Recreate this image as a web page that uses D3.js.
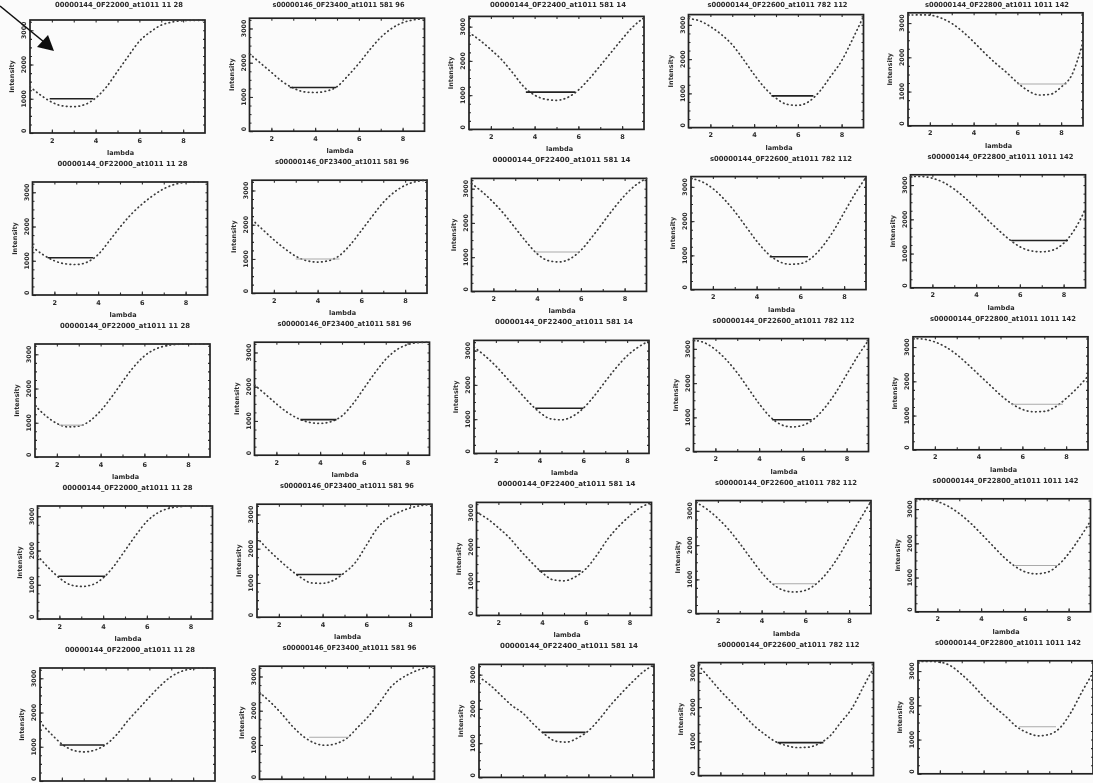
<!DOCTYPE html>
<html>
<head>
<meta charset="utf-8">
<script src="https://cdn.jsdelivr.net/npm/d3@7"></script>
<style>
  html, body { margin: 0; padding: 0; background: #fbfbfb; }
  svg { display: block; }
  text { font-family: "DejaVu Sans", sans-serif; fill: #2a2a2a; }
</style>
</head>
<body>
<svg id="chart" width="1093" height="783"></svg>
<script>
// ---------------- DATA ----------------
const lambdaGrid = [1, 1.5, 2, 2.5, 3, 3.5, 4, 4.5, 5, 5.5, 6, 6.5, 7, 7.5, 8, 8.5, 9];

const columnTitles = [
  "00000144_0F22000_at1011 11 28",
  "s00000146_0F23400_at1011 581 96",
  "00000144_0F22400_at1011 581 14",
  "s00000144_0F22600_at1011 782 112",
  "s00000144_0F22800_at1011 1011 142"
];
const xTickLabels = [2, 4, 6, 8];
const yTickLabels = [0, 1000, 2000, 3000];
const xAxisTitle = "lambda";
const yAxisTitle = "Intensity";

// intensity read at each lambdaGrid value, one array per panel (columns 1..5)
const row1Intensity = [
  [1350, 1100, 900, 790, 770, 830, 1020, 1350, 1800, 2250, 2680, 2950, 3150, 3240, 3280, 3290, 3290],
  [2260, 1990, 1720, 1450, 1260, 1150, 1130, 1170, 1300, 1620, 1980, 2380, 2740, 3000, 3170, 3250, 3290],
  [2830, 2600, 2330, 2030, 1650, 1250, 1000, 880, 850, 930, 1150, 1480, 1860, 2250, 2640, 3000, 3260],
  [3180, 3120, 2950, 2720, 2420, 2000, 1550, 1150, 860, 680, 650, 760, 1060, 1500, 1950, 2580, 3250],
  [3230, 3240, 3230, 3150, 2990, 2750, 2450, 2130, 1830, 1560, 1260, 1020, 900, 920, 1130, 1500, 2450]
];
const row2Intensity = [
  [1400, 1170, 1000, 910, 890, 960, 1180, 1570, 1980, 2350, 2650, 2900, 3100, 3230, 3290, 3300, 3300],
  [2150, 1850, 1560, 1300, 1080, 950, 910, 950, 1100, 1420, 1830, 2250, 2650, 2950, 3150, 3260, 3300],
  [3150, 2900, 2600, 2250, 1850, 1450, 1100, 900, 860, 950, 1200, 1580, 2000, 2420, 2800, 3100, 3300],
  [3250, 3150, 2950, 2650, 2280, 1850, 1420, 1060, 830, 740, 760, 920, 1250, 1700, 2250, 2800, 3280],
  [3250, 3250, 3200, 3080, 2880, 2620, 2320, 2000, 1700, 1420, 1200, 1080, 1050, 1100, 1300, 1700, 2300]
];
const row3Intensity = [
  [1500, 1200, 980, 880, 900, 1050, 1350, 1750, 2200, 2620, 2950, 3150, 3250, 3290, 3300, 3300, 3300],
  [2050, 1780, 1500, 1250, 1070, 960, 930, 980, 1150, 1500, 1950, 2400, 2800, 3080, 3230, 3290, 3300],
  [3100, 2850, 2550, 2200, 1850, 1500, 1200, 1010, 980, 1080, 1320, 1680, 2100, 2500, 2850, 3100, 3280],
  [3250, 3180, 2980, 2680, 2300, 1850, 1400, 1020, 790, 720, 770, 950, 1280, 1720, 2250, 2780, 3250],
  [3250, 3230, 3150, 3000, 2780, 2500, 2200, 1900, 1600, 1350, 1180, 1110, 1120, 1250, 1500, 1800, 2150]
];
const row4Intensity = [
  [1850, 1500, 1200, 1000, 950, 1000, 1200, 1550, 2000, 2450, 2850, 3100, 3230, 3280, 3300, 3300, 3300],
  [2320, 1980, 1680, 1400, 1160, 1000, 990, 1080, 1300, 1600, 2100, 2600, 2900, 3070, 3190, 3260, 3290],
  [3010, 2820, 2560, 2270, 1900, 1560, 1250, 1040, 1010, 1120, 1360, 1760, 2230, 2600, 2900, 3150, 3290],
  [3250, 3050, 2780, 2450, 2050, 1620, 1200, 870, 680, 630, 680, 870, 1200, 1650, 2200, 2750, 3280],
  [3280, 3280, 3220, 3080, 2870, 2600, 2280, 1950, 1620, 1350, 1170, 1110, 1150, 1350, 1700, 2150, 2650]
];
const row5Intensity = [
  [1720, 1380, 1080, 900, 850, 900, 1060, 1350, 1750, 2100, 2450, 2780, 3050, 3210, 3280, 3300, 3300],
  [2530, 2250, 1920, 1550, 1250, 1060, 990, 1040, 1200, 1520, 1850, 2250, 2690, 2950, 3120, 3240, 3290],
  [2930, 2700, 2400, 2100, 1880, 1550, 1260, 1060, 1030, 1150, 1360, 1700, 2100, 2450, 2780, 3080, 3290],
  [3220, 2850, 2480, 2150, 1820, 1480, 1220, 1000, 880, 820, 830, 930, 1150, 1550, 1950, 2550, 3150],
  [3280, 3280, 3260, 3150, 2900, 2600, 2250, 1950, 1680, 1380, 1200, 1110, 1150, 1350, 1800, 2400, 2950]
];

// horizontal chord per panel: [lambda start, lambda end, intensity]
const row1Chords = [[1.9, 3.9, 1000], [2.84, 4.96, 1278], [3.6, 5.85, 1090], [4.79, 6.71, 926], [6.0, 8.26, 1219]];
const row2Chords = [[1.69, 3.77, 1090], [3.0, 5.0, 1000], [3.9, 5.95, 1150], [4.6, 6.35, 960], [5.6, 8.2, 1380]];
const row3Chords = [[2.1, 3.2, 930], [3.1, 4.75, 1040], [3.8, 6.0, 1320], [4.6, 6.4, 930], [5.5, 7.85, 1330]];
const row4Chords = [[1.95, 4.1, 1250], [2.79, 4.86, 1245], [3.86, 5.77, 1296], [4.5, 6.45, 870], [5.5, 7.5, 1350]];
const row5Chords = [[1.9, 3.95, 1051], [3.27, 5.09, 1227], [3.9, 5.87, 1314], [4.61, 6.71, 964], [5.62, 7.31, 1373]];

const allIntensity = [row1Intensity, row2Intensity, row3Intensity, row4Intensity, row5Intensity];
const allChords = [row1Chords, row2Chords, row3Chords, row4Chords, row5Chords];

// ---------------- RENDER ----------------
const CANVAS_H = 783;
const svg = d3.select("#chart");
const defs = svg.append("defs");
defs.append("filter").attr("id", "scan")
  .append("feGaussianBlur").attr("stdDeviation", 0.35);

const root = svg.append("g").attr("filter", "url(#scan)");

const PW = 175, PH = 113;
const panelLeft = (r, c) => 30 + c * 219.5 + r * 2.5;
const panelTop  = (r, c) => 20 + r * 162 - c * 1.8;

// faint (light grey) chords, a matter of ink in the scan
const faint = new Set(["0-4", "1-1", "1-2", "2-0", "2-4", "3-3", "3-4", "4-1", "4-4"]);

const x = d3.scaleLinear().domain([1, 9]).range([0, PW]);
const y = d3.scaleLinear().domain([0, 3300]).range([PH, 0]);

const line = d3.line()
  .x((d, i) => x(lambdaGrid[i]))
  .y(d => y(d))
  .curve(d3.curveMonotoneX);

// titles of the row above, at the top edge of the sheet
columnTitles.forEach((t, c) => {
  root.append("text")
    .attr("x", panelLeft(-1, c) + PW / 2 + 4)
    .attr("y", 7)
    .attr("text-anchor", "middle")
    .attr("font-size", 7)
    .attr("font-weight", "bold")
    .attr("textLength", 128 + c * 4)
    .attr("lengthAdjust", "spacingAndGlyphs")
    .text(t);
});

for (let r = 0; r < 5; r++) {
  for (let c = 0; c < 5; c++) {
    const top = panelTop(r, c);
    const g = root.append("g")
      .attr("transform", `translate(${panelLeft(r, c)},${top})`);
    const fits = dy => top + dy <= CANVAS_H - 1;

    // axes with inward ticks
    const xMinor = d3.axisBottom(x).tickValues(d3.range(2, 9, 1)).tickSize(-2.5).tickFormat("");
    const xMajor = d3.axisBottom(x).tickValues(xTickLabels).tickSize(-3.5).tickPadding(5)
      .tickFormat(fits(PH + 12) ? d3.format("d") : "");
    const xTop = d3.axisTop(x).tickValues(d3.range(2, 9, 1)).tickSize(-2.5).tickFormat("");
    const yMinor = d3.axisLeft(y).tickValues(d3.range(250, 3300, 250)).tickSize(-2).tickFormat("");
    const yRight = d3.axisRight(y).tickValues(d3.range(250, 3300, 250)).tickSize(-2).tickFormat("");
    const yMajor = d3.axisLeft(y).tickValues(yTickLabels).tickSize(-3.5).tickFormat("");

    g.append("g").attr("transform", `translate(0,${PH})`).call(xMinor);
    const axM = g.append("g").attr("transform", `translate(0,${PH})`).call(xMajor);
    axM.selectAll("text").attr("font-size", 6.5).attr("font-weight", "bold")
      .attr("font-family", "DejaVu Sans").attr("fill", "#2a2a2a");
    if (!fits(PH + 12)) axM.selectAll("text").remove();
    g.append("g").call(xTop);
    g.append("g").call(yMinor);
    g.append("g").call(yMajor);
    g.append("g").attr("transform", `translate(${PW},0)`).call(yRight);
    g.selectAll(".domain").remove();
    g.selectAll(".tick line").attr("stroke", "#333").attr("stroke-width", 1.1);

    // y tick labels, rotated
    g.selectAll(".ylab").data(yTickLabels).join("text")
      .attr("class", "ylab")
      .attr("transform", d => `translate(-4,${y(d)}) rotate(-90)`)
      .attr("text-anchor", d => d === 0 ? "start" : "middle")
      .attr("font-size", 6.3)
      .attr("font-weight", "bold")
      .attr("fill", "#333")
      .text(d => d);

    // frame
    g.append("rect").attr("x", 0).attr("y", 0).attr("width", PW).attr("height", PH)
      .attr("fill", "none").attr("stroke", "#222").attr("stroke-width", 1.7);

    // curve drawn as dense dots
    g.append("path").datum(allIntensity[r][c])
      .attr("d", line)
      .attr("fill", "none")
      .attr("stroke", "#3a3a3a")
      .attr("stroke-width", 1.7)
      .attr("stroke-linecap", "round")
      .attr("stroke-dasharray", "0.6,3.6");

    // chord
    const ch = allChords[r][c];
    const isFaint = faint.has(`${r}-${c}`);
    g.append("line")
      .attr("x1", x(ch[0])).attr("x2", x(ch[1]))
      .attr("y1", y(ch[2])).attr("y2", y(ch[2]))
      .attr("stroke", isFaint ? "#aaa" : "#222")
      .attr("stroke-width", isFaint ? 1.1 : 1.6);

    // axis titles
    g.append("text")
      .attr("transform", `translate(-16,${PH / 2}) rotate(-90)`)
      .attr("text-anchor", "middle")
      .attr("font-size", 6.5)
      .attr("font-weight", "bold")
      .text(yAxisTitle);
    if (fits(PH + 24)) {
      g.append("text")
        .attr("x", PW / 2 + 3).attr("y", PH + 22)
        .attr("text-anchor", "middle")
        .attr("font-size", 6.5)
        .attr("font-weight", "bold")
        .text(xAxisTitle);
    }
    if (fits(PH + 35)) {
      g.append("text")
        .attr("x", PW / 2 + 5).attr("y", PH + 33)
        .attr("text-anchor", "middle")
        .attr("font-size", 7)
        .attr("font-weight", "bold")
        .attr("textLength", 130 + c * 4)
        .attr("lengthAdjust", "spacingAndGlyphs")
        .text(columnTitles[c]);
    }
  }
}

// annotation arrow in the top-left corner
root.append("line")
  .attr("x1", 0).attr("y1", 6).attr("x2", 44).attr("y2", 42)
  .attr("stroke", "#111").attr("stroke-width", 1.6);
root.append("polygon")
  .attr("points", "54,51 37,47 48,35")
  .attr("fill", "#111");
</script>
</body>
</html>
